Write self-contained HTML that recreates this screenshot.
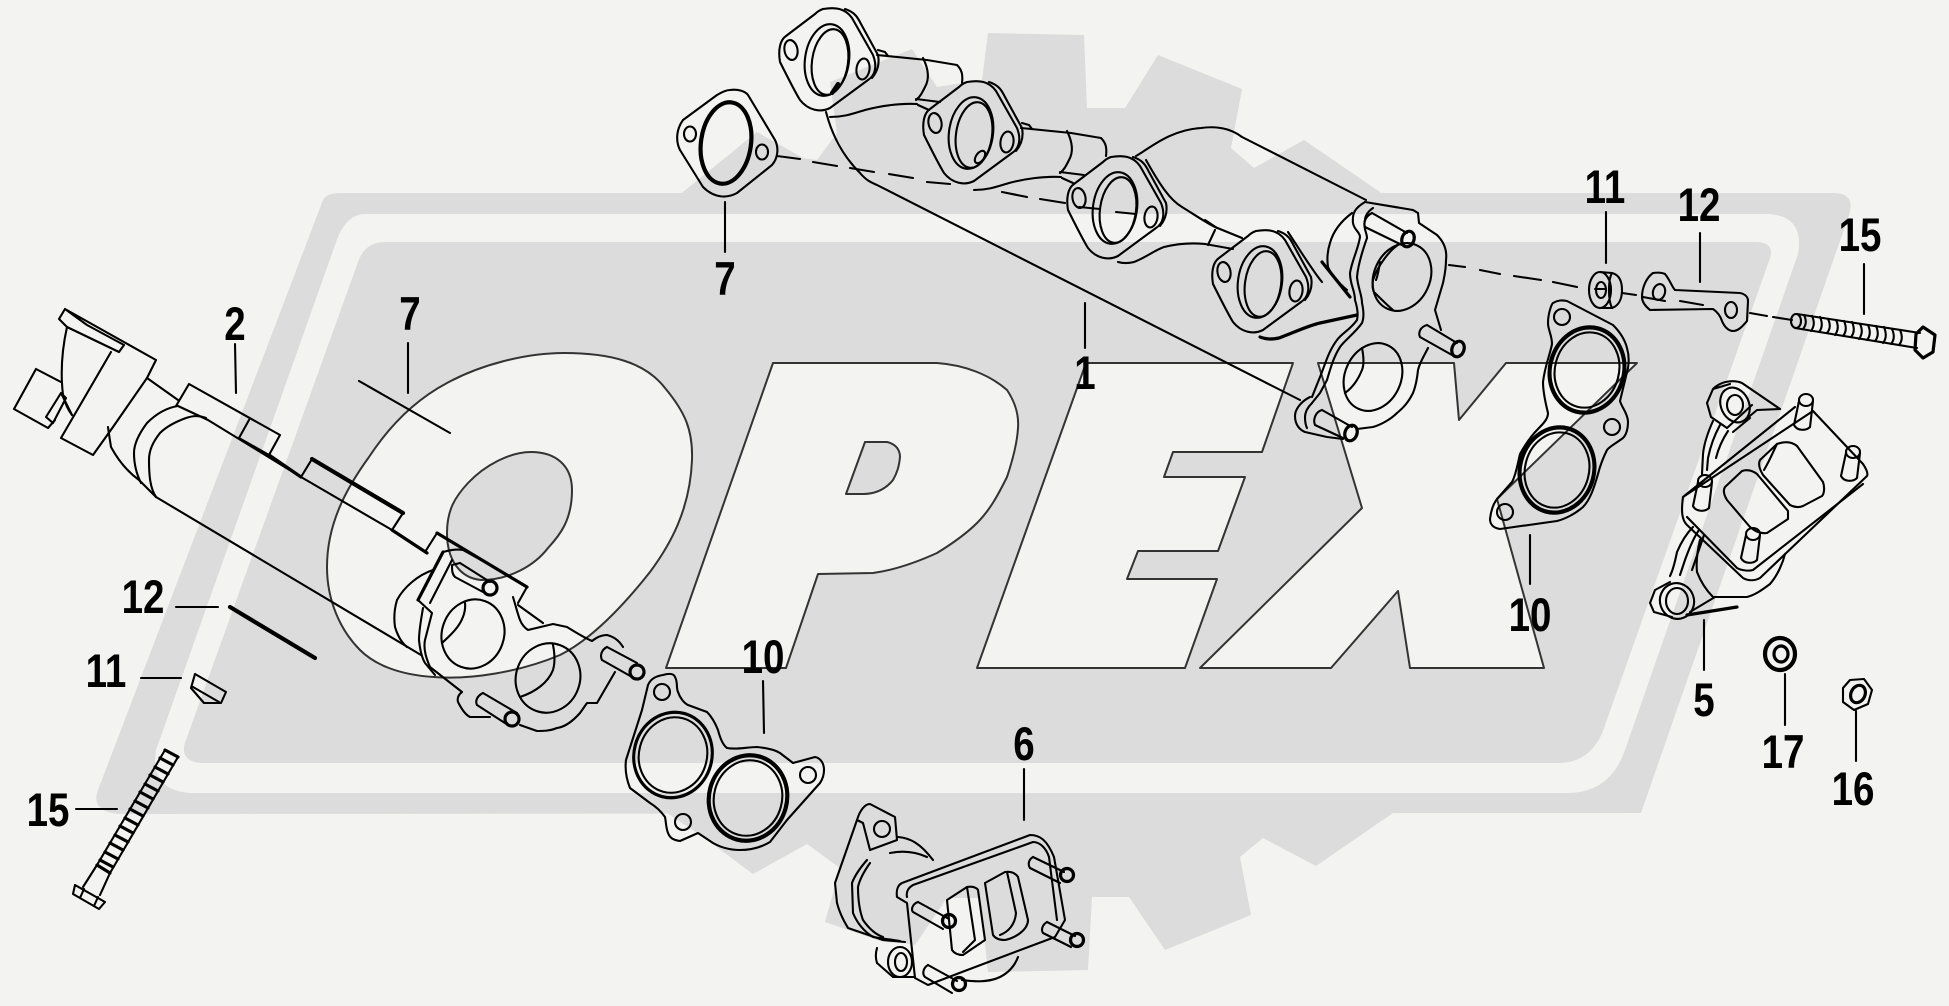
<!DOCTYPE html>
<html><head><meta charset="utf-8"><style>
html,body{margin:0;padding:0;background:#f3f3f1;width:1949px;height:1006px;overflow:hidden}
svg{display:block}
.l{fill:none;stroke:#000;stroke-width:2.1;stroke-linejoin:round;stroke-linecap:round}
.th{stroke-width:4.2}
.m{stroke-width:3.2}
.ol{fill:#f3f3f1;stroke:#333;stroke-width:2;stroke-linejoin:round}
text{font-family:"Liberation Sans",sans-serif;font-weight:bold;font-size:47px;text-anchor:middle;fill:#000}
</style></head><body>
<svg width="1949" height="1006" viewBox="0 0 1949 1006" xmlns="http://www.w3.org/2000/svg">
<rect width="1949" height="1006" fill="#f3f3f1"/>
<!-- gear -->
<polygon fill="#dcdcdc" points="988,33 1084,35 1087,108 1125,108 1158,55 1242,89 1231,148 1254,168 1304,140 1380,192 1400,810 1393,813 1316,866 1263,838 1240,857 1251,915 1165,950 1129,897 1092,897 1088,970 988,972 980,898 947,898 915,945 903,943 883,942 825,922 840,868 807,844 753,874 703,837 667,813 600,813 683,192 757,132 803,158 817,160 837,133 830,82 912,49 937,87 982,80"/>
<path fill="#dcdcdc" d="M340,193 L1833,193 Q1856,193 1849,215 L1641,813 L120,814 Q90,812 98,790 L323,200 Q327,193 340,193Z"/>
<path fill="#f3f3f1" d="M365,214 L1765,214 Q1805,214 1798,254 L1625,750 Q1610,793 1567,793 L190,793 Q150,790 156,750 L335,245 Q345,214 365,214Z"/>
<path fill="#dcdcdc" d="M385,242 L1755,242 Q1775,242 1770,258 L1603,731 Q1590,763 1558,763 L200,763 Q178,760 186,740 L358,262 Q365,242 385,242Z"/>
<!-- OPEX letters -->
<path class="ol" fill-rule="evenodd" d="M564,353 C610,353 645,362 665,388 C685,412 693,430 692,460 C690,510 670,545 650,572 C620,610 590,640 560,655 C520,672 470,680 434,677 C400,675 375,665 360,650 C340,630 327,600 327,567 C327,525 345,490 369,457 C390,425 415,400 447,383 C480,365 525,353 564,353Z M531,452 C555,452 572,465 572,490 C572,520 560,535 548,548 C535,565 510,580 481,580 C460,578 447,560 447,533 C447,510 455,497 468,483 C485,465 510,452 531,452Z"/>
<path class="ol" fill-rule="evenodd" d="M773,363 L937,363 C965,365 990,375 1007,390 C1015,402 1019,415 1018,428 C1017,445 1012,462 1007,477 C998,495 990,510 977,523 C965,535 950,545 937,553 C915,563 895,570 873,573 L818,574 L786,668 L666,668Z M865,442 L887,442 C896,444 900,450 900,457 C899,467 897,473 893,480 C885,490 875,494 863,494 L846,494Z"/>
<polygon class="ol" points="1086,363 1293,363 1262,452 1173,452 1164,477 1245,477 1218,551 1138,551 1127,579 1217,579 1185,668 977,668"/>
<polygon class="ol" points="1318,363 1454,363 1459,420 1506,363 1637,363 1497,499 1544,668 1410,668 1398,591 1331,668 1200,668 1362,508"/>
<defs>
<g id="fl" class="l">
<path d="M823,9 C835,7 845,8 852,18 L873,55 C877,65 876,75 868,80 L830,108 C820,113 808,110 800,100 C795,92 785,72 780,62 C778,50 780,40 786,36 L815,14 C818,11 820,10 823,9Z"/>
<path d="M845,9 C855,12 858,18 861,24 L878,55 C880,65 877,72 872,78"/>
<ellipse cx="827" cy="60" rx="22" ry="36" transform="rotate(8 827 60)"/>
<ellipse cx="830" cy="62" rx="18" ry="33" transform="rotate(8 830 62)"/>
<ellipse cx="791" cy="50" rx="6.5" ry="10" transform="rotate(-10 791 50)"/>
<ellipse cx="863" cy="69" rx="6.5" ry="10.5" transform="rotate(8 863 69)"/>
</g>
<g id="pipe" class="l">
<path d="M877,55 L927,60 L957,65 C962,70 963,75 962,83"/>
<path d="M830,117 C845,117 855,113 865,110 C880,106 900,103 917,104"/>
<path d="M923,58 C929,70 929,80 925,87 C922,93 920,97 916,100"/>
<path d="M916,99 L940,102 M918,105 L929,110"/>
<path d="M878,50 L885,52 L888,56"/>
</g>
</defs>
<!-- dashes -->
<path class="l" d="M777,156L800,159M813,162L837,166M850,168L874,172M889,174L913,178M927,182L950,184M1002,192L1027,197M1040,199L1065,203M1079,207L1100,209M1116,212L1136,214M1449,265L1465,267M1480,270L1500,274M1514,276L1541,280M1553,282L1577,287M1595,289L1606,289M1622,293L1636,295M1643,297L1665,301M1680,301L1703,305M1750,313L1767,316M1773,317L1792,320"/>
<!-- gasket 7 top -->
<g class="l">
<path d="M730,90 C738,89 745,91 748,95 L775,140 C779,148 778,158 772,165 L737,193 C728,198 715,199 703,187 L680,150 C675,140 677,128 683,120 L717,95 C722,92 726,90 730,90Z"/>
<ellipse cx="726" cy="143" rx="25" ry="41" transform="rotate(8 726 143)" class="l th"/>
<ellipse cx="690" cy="134" rx="6" ry="7.5"/>
<ellipse cx="762" cy="152" rx="6" ry="7.5"/>
<path d="M725,202V252"/>
</g>
<!-- manifold -->
<use href="#fl"/><use href="#fl" x="144" y="73"/><use href="#fl" x="288" y="148"/><use href="#fl" x="433" y="222"/>
<use href="#pipe"/><use href="#pipe" x="144" y="73"/>
<g class="l">
<path d="M832,93 L838,84" class="l th"/>
<ellipse cx="980" cy="157" rx="4" ry="7" transform="rotate(35 980 157)"/>
<path d="M826,112 C832,135 842,155 860,173 C866,180 870,182 877,185 L1300,400"/>
<path d="M1136,156 C1150,148 1170,130 1201,128 C1215,126 1230,128 1242,137 L1366,200"/>
<path d="M1146,160 C1160,185 1170,200 1182,207 C1195,215 1205,222 1215,227 L1242,238"/>
<path d="M1205,220 L1217,228 M1215,230 L1208,245"/>
<path d="M1118,262 C1125,264 1130,263 1134,262 C1145,258 1155,250 1164,247 C1180,243 1195,243 1205,244 L1233,249"/>
<path d="M1288,232 C1300,250 1312,270 1322,282"/>
<path d="M1322,262 L1350,297" class="l m"/>
<path d="M1260,337 C1268,340 1274,339 1279,338 C1295,332 1310,325 1320,323 L1357,315" class="l m"/>
<!-- end flange -->
<path d="M1365,202 L1413,210 L1418,213 L1419,223 L1437,235 C1445,243 1447,252 1446,260 C1446,270 1444,278 1443,283 L1435,310 L1441,330"/>
<path d="M1428,348 C1423,358 1420,362 1418,370 C1417,380 1415,388 1413,393 C1408,403 1403,408 1397,413 C1390,420 1380,425 1373,427 L1357,429"/>
<path d="M1365,202 C1355,208 1352,213 1353,223 C1354,230 1360,232 1360,237 C1358,250 1352,260 1350,273 C1350,285 1355,290 1355,300 C1358,310 1358,315 1357,320 C1350,330 1342,333 1337,340 C1328,352 1325,365 1320,377 L1312,397"/>
<path d="M1373,208 C1367,212 1365,217 1365,220 C1363,228 1367,233 1367,238 C1362,252 1358,265 1357,277 C1358,288 1362,295 1362,303 C1364,312 1364,318 1362,323 C1355,333 1345,340 1340,347 C1333,358 1330,370 1327,380 L1320,393 L1312,403"/>
<path d="M1310,397 C1300,402 1295,410 1295,416 C1295,425 1300,430 1305,432 L1327,437 L1343,439"/>
<path d="M1312,403 C1307,408 1305,412 1305,417 C1305,422 1306,426 1307,428"/>
<path d="M1352,213 C1340,222 1333,232 1330,243 C1327,252 1327,260 1328,267 C1332,276 1340,284 1347,290"/>
<ellipse cx="1402" cy="277" rx="28" ry="35" transform="rotate(25 1402 277)"/>
<path d="M1398,245 C1390,250 1378,265 1373,280 C1372,287 1373,292 1375,293 C1382,300 1387,305 1393,310"/>
<path d="M1380,262 Q1378,275 1376,280"/>
<ellipse cx="1373" cy="377" rx="28" ry="35" transform="rotate(25 1373 377)"/>
<path d="M1362,348 C1364,358 1364,365 1362,370 C1358,380 1352,388 1345,393"/>
<path d="M1372,213 L1407,233 M1365,227 L1402,245 M1372,213 C1366,216 1363,222 1365,227"/>
<ellipse cx="1408" cy="239" rx="6" ry="8" transform="rotate(20 1408 239)" class="l m"/>
<path d="M1427,325 L1457,343 M1420,337 L1452,355 M1427,325 C1420,327 1418,333 1420,337"/>
<ellipse cx="1458" cy="349" rx="6" ry="8" transform="rotate(20 1458 349)" class="l m"/>
<path d="M1322,410 L1352,427 M1315,425 L1343,438 M1322,410 C1315,412 1313,420 1315,425"/>
<ellipse cx="1351" cy="433" rx="6" ry="8" transform="rotate(20 1351 433)" class="l m"/>
<path d="M1085,303V348"/>
</g>
<!-- pipe (2) -->
<g class="l">
<path d="M36,369 L14,409 L48,428 M36,369 L61,382 M48,428 L55,420"/>
<path d="M65,309 L59,319 L67,327 L119,352 L124,345 L87,325 L65,309 L156,360 L147,378 L113,427 L93,455 L61,438 L111,352"/>
<path d="M67,327 C63,345 60,370 63,395 C65,403 68,410 72,415"/>
<path d="M46,417 L61,393 L66,398 L53,423 Z M61,393 L72,415"/>
<path d="M147,378 L178,400 M108,427 C109,435 110,440 111,447 C118,460 128,472 139,480 L156,497"/>
<path d="M178,406 C165,408 155,415 147,423 C138,435 134,445 134,453 C134,465 137,475 141,483"/>
<path d="M206,418 C198,415 192,416 186,418 C175,422 166,427 160,433 C153,442 149,450 149,460 C149,475 150,488 156,497"/>
<path d="M189,384 L280,435 L269,455 M189,384 L176,406 M249,420 L239,438 M239,438 L269,455"/>
<path d="M178,406 L208,420 L301,477 L392,530 L427,553"/>
<path d="M269,455 L301,477" class="l m"/>
<path d="M312,459 L403,513 L392,530 M312,459 L301,477"/>
<path d="M312,459 L403,513" class="l th"/>
<path d="M392,530 L427,553" class="l m"/>
<path d="M156,497 L421,655"/>
<path d="M425,552 L437,533 L527,587 L518,603 M518,605 L543,623"/>
<path d="M437,533 L527,587" class="l m"/>
<!-- end flange left -->
<path d="M418,600 L443,552 C450,550 457,549 463,550 L490,565 M513,597 C516,607 518,615 520,620 C522,625 525,628 528,630 L553,624 L567,627 C575,632 585,638 592,641 C597,637 602,635 607,635 C615,637 620,642 623,647"/>
<path d="M418,600 L432,613 L425,640 C423,650 427,660 430,667 L462,692 C458,695 457,698 458,702 C462,710 466,715 470,717 L490,717"/>
<path d="M423,608 C421,620 419,630 419,640 C420,650 422,658 425,663 L435,675"/>
<path d="M418,600 L443,552" class="l m"/>
<path d="M430,603 L452,560"/>
<path d="M615,672 L597,703 L587,703 L580,713 C572,722 565,727 557,728 C550,731 543,731 537,731 L520,725"/>
<ellipse cx="473" cy="634" rx="31" ry="35" transform="rotate(20 473 634)"/>
<path d="M465,603 C466,612 462,622 455,630 C450,636 445,640 442,643"/>
<ellipse cx="548" cy="678" rx="32" ry="35" transform="rotate(20 548 678)"/>
<path d="M553,645 C555,655 555,663 553,670 C548,683 535,692 520,697"/>
<path d="M433,570 C418,575 404,587 397,600 C394,610 394,620 395,627 C398,637 402,643 407,647"/>
<path d="M460,563 L490,582 M455,577 L483,592 M460,563 L452,565 C452,570 452,574 455,577"/>
<circle cx="490" cy="588" r="7" class="l m"/>
<path d="M607,647 L637,663 M602,660 L632,677 M607,647 C601,650 600,656 602,660"/>
<circle cx="637" cy="672" r="7" class="l m"/>
<path d="M483,693 L517,713 M477,705 L508,725 M483,693 C477,696 475,701 477,705"/>
<circle cx="512" cy="719" r="7" class="l m"/>
<path d="M235,344L236,393M408,343L408,393"/>
<path d="M359,381L450,433"/>
<path d="M176,607L218,607M141,678L181,678M76,809L117,809"/>
<path d="M230,607L315,658" class="l th"/>
<!-- key -->
<path d="M195,674 L226,692 L221,703 L204,703 L191,688Z M193,687 L219,702"/>
<!-- left bolt -->
<path d="M165,750 L178,757 L110,873 L100,895 M165,750 L97,865 L83,887"/>
<path d="M75,885 L105,902 L99,909 L73,894Z M84,889 L80,898 M98,897 L94,906"/>
<path class="l m" d="M165,750L178,757M160,758L173,765M155,767L168,774M150,775L163,782M145,784L158,791M140,792L153,799M135,801L148,808M130,809L143,816M125,818L138,825M120,826L133,833M115,835L128,842M110,843L123,850M105,852L118,859M100,860L113,867M97,865L110,873"/>
</g>
<!-- gasket 10 lower -->
<g class="l">
<path d="M663,675 C670,673 674,674 675,677 C678,682 676,688 678,692 C680,698 684,703 688,705 L707,712 C713,718 716,725 718,730 C720,738 723,745 727,748 C737,750 747,747 757,747 C767,748 775,750 780,753 L793,763 L815,757 C821,758 824,764 824,770 C824,776 822,780 820,783 L787,820 L770,842 C760,848 750,850 740,850 C730,850 720,847 713,843 L698,833 L680,841 C673,840 670,838 668,833 C666,828 666,822 665,817 C660,810 655,806 650,803 L630,788 C626,778 625,768 626,760 L642,710 L648,685 C651,678 657,676 663,675Z"/>
<ellipse cx="673" cy="755" rx="39" ry="43" transform="rotate(15 673 755)" class="l m"/>
<ellipse cx="673" cy="755" rx="34" ry="38" transform="rotate(15 673 755)"/>
<ellipse cx="748" cy="798" rx="39" ry="43" transform="rotate(15 748 798)" class="l th"/>
<ellipse cx="748" cy="798" rx="34" ry="38" transform="rotate(15 748 798)"/>
<circle cx="662" cy="692" r="8"/><circle cx="683" cy="822" r="8"/><circle cx="808" cy="775" r="8"/>
<path d="M763,681L764,733M1024,769L1024,820"/>
</g>
<!-- part 6 -->
<g class="l">
<path d="M1030,835 C1040,835 1047,840 1054,857 L1065,920 L1055,937 L962,972 L928,985 L915,978 L907,903 L897,897 C896,890 898,885 902,883 Z"/>
<path d="M913,885 L1033,842 C1040,842 1046,848 1049,857 L1057,920 M913,885 C908,888 906,892 907,897"/>
<path d="M947,900 L967,887 C973,886 977,888 978,890 L985,940 L963,955 C957,955 954,953 952,950 Z"/>
<path d="M967,887 L975,940 L963,952"/>
<path d="M985,883 L1005,872 C1012,871 1016,874 1018,877 L1028,920 C1028,930 1015,938 1005,940 C998,940 995,938 993,935 Z"/>
<path d="M1007,872 L1016,913 C1015,925 1008,932 1000,935"/>
<path d="M918,902 L949,919 M913,912 L943,929 M918,902 C912,904 911,910 913,912"/>
<circle cx="949" cy="921" r="6.5" class="l m"/>
<path d="M1033,857 L1064,872 M1030,868 L1060,883 M1033,857 C1028,860 1028,865 1030,868"/>
<circle cx="1067" cy="875" r="6.5" class="l m"/>
<path d="M1047,922 L1075,936 M1043,933 L1071,947 M1047,922 C1042,925 1041,930 1043,933"/>
<circle cx="1077" cy="940" r="6.5" class="l m"/>
<path d="M928,965 L957,981 M925,977 L952,993 M928,965 C923,968 922,974 925,977"/>
<circle cx="959" cy="984" r="6.5" class="l m"/>
<path d="M857,820 C860,810 865,804 870,804 L895,817 L897,840 L870,850 L863,823 L857,820 L835,883 L837,903 C840,915 845,923 848,928 L883,940 L905,942"/>
<circle cx="882" cy="829" r="8"/>
<path d="M867,860 C860,868 855,875 852,883 L853,913 C858,925 865,932 873,937 L900,941"/>
<path d="M870,863 C865,870 860,878 858,887 C858,902 860,912 863,920 C870,930 877,935 883,937"/>
<path d="M898,837 C910,838 920,843 933,860 M890,853 C905,850 918,853 927,857"/>
<path d="M877,948 C875,955 876,960 877,963 L893,977 L915,977"/>
<ellipse cx="900" cy="962" rx="12" ry="15"/><ellipse cx="901" cy="962" rx="6" ry="9"/>
<path d="M962,980 C975,982 990,982 1000,977 C1010,972 1015,965 1018,957"/>
</g>
<!-- right gasket 10 -->
<g class="l">
<path d="M1567,301 L1613,325 C1620,332 1625,340 1627,348 C1629,355 1629,362 1628,368 L1620,401 C1622,408 1627,412 1628,421 C1628,430 1626,435 1623,438 C1615,444 1610,446 1607,450 C1603,458 1600,466 1598,474 C1594,488 1590,500 1583,507 C1575,514 1565,519 1557,521 L1500,529 C1493,528 1490,524 1490,519 C1491,510 1494,503 1497,499 L1512,482 C1516,475 1518,462 1520,454 C1525,445 1532,435 1538,429 C1545,422 1548,418 1548,413 C1546,405 1543,392 1543,382 C1545,365 1550,355 1552,344 C1552,335 1548,330 1548,323 C1548,313 1552,303 1553,303 C1558,300 1562,300 1567,301Z"/>
<ellipse cx="1587" cy="370" rx="37" ry="43" transform="rotate(15 1587 370)" class="l th"/>
<ellipse cx="1587" cy="370" rx="32" ry="38" transform="rotate(15 1587 370)"/>
<ellipse cx="1557" cy="470" rx="37" ry="43" transform="rotate(15 1557 470)" class="l th"/>
<ellipse cx="1557" cy="470" rx="32" ry="38" transform="rotate(15 1557 470)"/>
<circle cx="1562" cy="317" r="8"/><circle cx="1612" cy="427" r="8"/><circle cx="1505" cy="512" r="8"/>
<path d="M1530,535V584M1606,212V263M1700,233V282M1864,264V314M1704,620V670M1785,674V725M1856,711V761"/>
<!-- washer 11 -->
<ellipse cx="1600" cy="290" rx="11" ry="18"/>
<path d="M1600,272 L1612,273 C1620,275 1622,283 1622,290 C1622,300 1618,306 1612,308 L1600,308"/>
<path d="M1612,273 C1608,280 1608,300 1612,308"/>
<ellipse cx="1601" cy="290" rx="5" ry="8"/>
<!-- bracket 12 -->
<path d="M1653,273 C1660,272 1663,273 1665,274 C1670,280 1672,287 1675,290 L1740,293 C1745,294 1748,297 1748,301 L1747,321 C1742,327 1738,331 1733,331 C1728,331 1724,326 1722,321 C1720,315 1716,311 1713,309 L1650,310 C1645,306 1642,302 1642,297 C1642,288 1646,278 1653,273Z"/>
<ellipse cx="1659" cy="292" rx="6" ry="8" transform="rotate(15 1659 292)"/>
<ellipse cx="1731" cy="310" rx="6" ry="8"/>
<!-- bolt 15 right -->
<path d="M1797,314 L1920,333 M1795,328 L1917,348"/>
<ellipse cx="1796" cy="321" rx="5" ry="7"/>
<path class="l m" d="M1923,327 L1935,335 L1933,352 L1923,358 L1915,350 L1916,334Z"/>
<path d="M1804,315 Q1808,323 1803,329 M1812,316 Q1816,324 1811,331 M1820,317 Q1824,326 1819,332 M1828,319 Q1832,327 1827,333 M1836,320 Q1840,328 1835,335 M1844,321 Q1848,330 1843,336 M1852,322 Q1856,331 1851,337 M1860,324 Q1864,332 1859,339 M1868,325 Q1872,334 1867,340 M1876,326 Q1880,335 1875,341 M1884,327 Q1888,337 1883,343 M1892,329 Q1896,338 1891,344 M1900,330 Q1904,339 1899,345"/>
<!-- bracket 5 -->
<path d="M1683,497 L1795,407 M1813,411 L1863,464 C1867,470 1868,474 1867,476 L1760,578 C1755,581 1748,581 1743,578 L1687,525 C1682,520 1681,512 1683,497 Z"/>
<path d="M1687,517 L1737,568 C1742,571 1750,571 1753,570 L1863,484"/>
<path d="M1760,460 L1777,444 C1785,441 1792,442 1797,446 L1823,482 C1825,488 1824,494 1822,496 L1803,506 C1798,508 1794,507 1790,505 L1763,475 C1760,470 1758,464 1760,460Z"/>
<path d="M1777,444 C1773,452 1770,460 1764,470"/>
<path d="M1725,487 L1742,471 C1748,469 1753,471 1757,474 L1788,511 L1788,519 L1767,533 C1760,534 1755,531 1750,527 L1727,500 C1724,495 1723,490 1725,487Z"/>
<ellipse cx="1806" cy="400" rx="7" ry="6"/><path d="M1799,401 L1794,425 C1797,431 1806,431 1810,427 L1813,401"/>
<ellipse cx="1853" cy="452" rx="7" ry="6"/><path d="M1846,453 L1841,476 C1844,482 1853,482 1857,478 L1860,453"/>
<ellipse cx="1705" cy="481" rx="7" ry="6"/><path d="M1698,482 L1693,506 C1696,512 1705,512 1709,508 L1712,482"/>
<ellipse cx="1753" cy="534" rx="7" ry="6"/><path d="M1746,535 L1741,558 C1744,564 1753,564 1757,560 L1760,535"/>
<path d="M1713,389 C1722,380 1735,380 1742,383 L1780,409 M1707,403 L1713,389 L1730,384 M1707,403 L1711,417 L1727,428 L1752,405"/>
<ellipse cx="1735" cy="405" rx="8" ry="10"/><ellipse cx="1735" cy="405" rx="14" ry="18" transform="rotate(-25 1735 405)"/>
<path d="M1713,421 C1708,432 1704,444 1703,454 L1702,474 M1720,425 C1714,436 1710,448 1708,458 L1707,470 M1728,431 C1722,440 1718,450 1716,458"/>
<path d="M1745,420 L1757,410 L1780,409 M1733,432 L1750,418"/>
<path d="M1693,527 C1685,535 1680,545 1677,552 C1675,562 1673,570 1670,576 M1699,530 C1692,540 1688,552 1685,560 L1680,575 M1704,535 L1692,570"/>
<path d="M1700,540 C1697,552 1696,562 1697,572 C1702,585 1708,592 1713,597 L1747,597 C1755,595 1762,590 1770,584 C1778,575 1783,562 1785,554"/>
<ellipse cx="1677" cy="601" rx="11" ry="13"/><ellipse cx="1677" cy="601" rx="17" ry="18" transform="rotate(-20 1677 601)"/>
<path d="M1650,603 L1655,590 L1670,582 M1650,603 L1654,612 L1672,617"/>
<path d="M1690,612 L1715,597"/>
<path d="M1687,615 L1737,607" class="l m"/>
<!-- washer 17 -->
<ellipse cx="1780" cy="654" rx="15" ry="16" class="l th"/>
<ellipse cx="1781" cy="654" rx="7" ry="8" class="l m"/>
<!-- nut 16 -->
<polygon points="1850,680 1864,679 1872,690 1868,704 1854,710 1843,702 1843,688"/>
<ellipse cx="1858" cy="694" rx="7" ry="9" transform="rotate(25 1858 694)" class="l m"/>
</g>
<!-- labels -->
<text transform="translate(235,340) scale(.82,1)">2</text>
<text transform="translate(410,330) scale(.82,1)">7</text>
<text transform="translate(143,613) scale(.82,1)">12</text>
<text transform="translate(106,687) scale(.82,1)">11</text>
<text transform="translate(48,826) scale(.82,1)">15</text>
<text transform="translate(763,673) scale(.82,1)">10</text>
<text transform="translate(1024,760) scale(.82,1)">6</text>
<text transform="translate(725,295) scale(.82,1)">7</text>
<text transform="translate(1085,389) scale(.82,1)">1</text>
<text transform="translate(1605,203) scale(.82,1)">11</text>
<text transform="translate(1699,221) scale(.82,1)">12</text>
<text transform="translate(1860,251) scale(.82,1)">15</text>
<text transform="translate(1530,631) scale(.82,1)">10</text>
<text transform="translate(1704,716) scale(.82,1)">5</text>
<text transform="translate(1783,768) scale(.82,1)">17</text>
<text transform="translate(1853,805) scale(.82,1)">16</text>
</svg>
</body></html>
